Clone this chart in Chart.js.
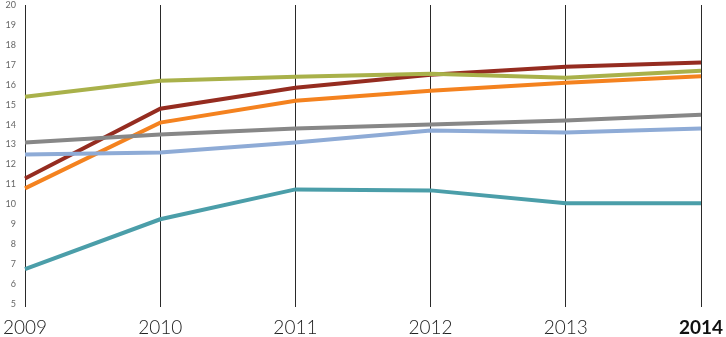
<!DOCTYPE html>
<html>
<head>
<meta charset="utf-8">
<script src="https://cdn.jsdelivr.net/npm/chart.js@4.4.1/dist/chart.umd.min.js"></script>
<style>
  html, body { margin: 0; padding: 0; background: #ffffff; }
  #wrap { width: 726px; height: 337px; position: relative; }
</style>
</head>
<body>
<div id="wrap"><canvas id="c"></canvas></div>
<script>
// Years on the horizontal axis
const years = ['2009', '2010', '2011', '2012', '2013', '2014'];

// Series values, one array per line
const seriesTeal   = [6.75, 9.25, 10.75, 10.7, 10.05, 10.05];
const seriesBlue   = [12.5, 12.6, 13.1, 13.7, 13.6, 13.8];
const seriesGray   = [13.1, 13.5, 13.8, 14.0, 14.2, 14.5];
const seriesOrange = [10.8, 14.1, 15.2, 15.7, 16.1, 16.42];
const seriesGreen  = [15.4, 16.2, 16.4, 16.55, 16.35, 16.7];
const seriesRed    = [11.3, 14.8, 15.85, 16.5, 16.9, 17.12];

// Vertical axis range and step
const yMin = 5;
const yMax = 20;
const yStep = 1;

const mk = (data, color) => ({
  data,
  borderColor: color,
  backgroundColor: color,
  borderWidth: 4,
  pointRadius: 0,
  pointHoverRadius: 0,
  tension: 0,
  fill: false,
  borderCapStyle: 'butt',
  borderJoinStyle: 'miter'
});

new Chart(document.getElementById('c'), {
  type: 'line',
  data: {
    labels: years,
    datasets: [
      mk(seriesTeal, '#4b9ea9'),
      mk(seriesBlue, '#8eabd6'),
      mk(seriesGray, '#878787'),
      mk(seriesOrange, '#f4821f'),
      mk(seriesGreen, '#a9b14a'),
      mk(seriesRed, '#952c20')
    ]
  },
  options: {
    responsive: true,
    maintainAspectRatio: false,
    animation: false,
    layout: { padding: { top: 5, right: 25, bottom: 0, left: 0 } },
    plugins: { legend: { display: false }, tooltip: { enabled: false } },
    scales: {
      x: {
        type: 'category',
        offset: false,
        z: 1,
        border: { display: false },
        grid: {
          display: true,
          color: '#2a2a2a',
          lineWidth: 1,
          drawTicks: true,
          tickLength: 3
        },
        ticks: {
          autoSkip: false,
          maxRotation: 0,
          padding: 9,
          color: (ctx) => ctx.index === years.length - 1 ? '#111111' : '#222222',
          font: (ctx) => ctx.index === years.length - 1
            ? { family: 'Lato', size: 19, weight: 'bold' }
            : { family: 'Lato', size: 19, weight: '300' }
        },
        afterFit: (scale) => {
          scale.height = 33;
          scale.paddingLeft = 0;
          scale.paddingRight = 0;
        }
      },
      y: {
        min: yMin,
        max: yMax,
        border: { display: false },
        grid: { display: false, drawTicks: false },
        ticks: {
          stepSize: yStep,
          padding: 9,
          color: '#666666',
          font: { family: 'Lato', size: 9 }
        },
        afterFit: (scale) => {
          scale.width = 25;
          scale.paddingTop = 0;
          scale.paddingBottom = 0;
        }
      }
    }
  }
});
</script>
</body>
</html>
